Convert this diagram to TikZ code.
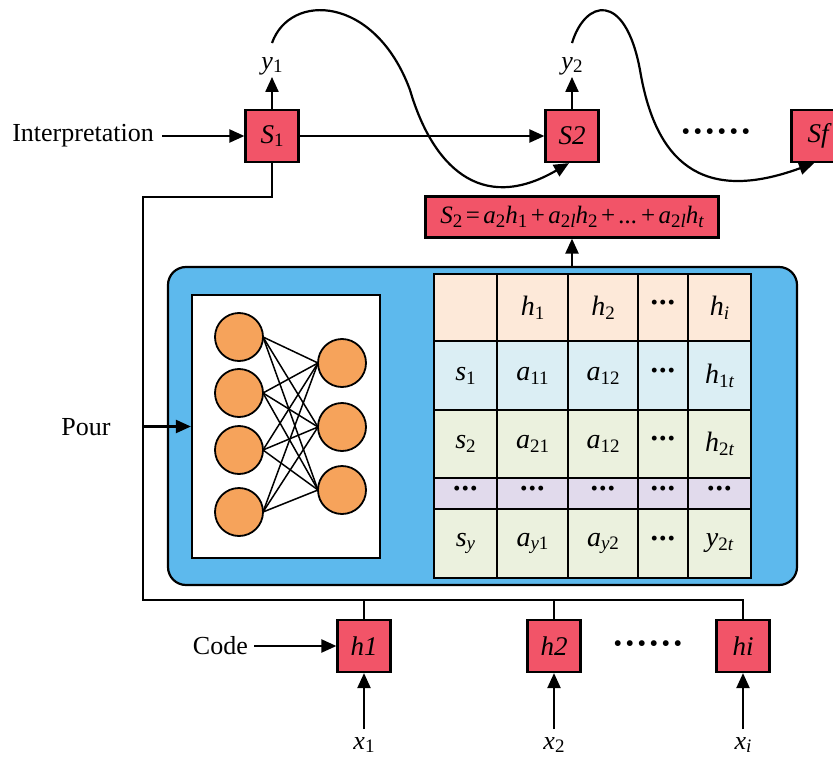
\documentclass[tikz,border=0pt]{standalone}
\usepackage{fontspec}
\setmainfont{Liberation Serif}
\usetikzlibrary{arrows.meta,calc}
\definecolor{boxred}{HTML}{F25468}
\definecolor{peach}{HTML}{FDE9D9}
\definecolor{lblue}{HTML}{DBEEF4}
\definecolor{lgreen}{HTML}{EBF1DE}
\definecolor{lav}{HTML}{E1DAEC}
\definecolor{nnorange}{HTML}{F6A35B}
\definecolor{panelblue}{HTML}{5DB9ED}
\newcommand\mysub[1]{\raisebox{-0.3ex}{\fontsize{19}{19}\selectfont\upshape #1}}
\newcommand\iv[2]{{\itshape #1}\mysub{#2}}
\newcommand\cdt{{\fontsize{30}{30}\selectfont\bfseries\raisebox{0.2ex}{·\kern-1.5pt·\kern-1.5pt·}}}
\newcommand\op[1]{\kern3.5pt{\upshape #1}\kern3.5pt}
\newcommand\cell[7]{\node[cellst, fill=#6, minimum width={(#3-#2)*1pt}, minimum height={(#5-#4)*1pt}] (#1) at ({(#2+#3)/2},{(#4+#5)/2}) {#7};}
\tikzset{
  redbox/.style={draw=black, line width=2.2pt, fill=boxred, minimum width=53pt, minimum height=52pt, inner sep=0pt, font=\fontsize{27}{30}\selectfont\itshape},
  arr/.style={line width=2.2pt, -{Triangle[length=15pt,width=13pt]}},
  ln/.style={line width=2.2pt},
  lbl/.style={font=\fontsize{26}{30}\selectfont, inner sep=2pt},
  cellst/.style={draw=black, line width=2.2pt, inner sep=0pt, font=\fontsize{28}{30}\selectfont},
  neuron/.style={circle, draw=black, line width=1.8pt, fill=nnorange, minimum size=48pt, inner sep=0pt},
  wire/.style={line width=1.5pt},
  bigdots/.style={font=\fontsize{36}{36}\selectfont\bfseries, inner sep=0pt}
}
\begin{document}
\begin{tikzpicture}[x=1pt,y=-1pt]
\useasboundingbox (0,0) rectangle (833,760);
% top row
\node[redbox] (S1) at (272,136) {\iv{S}{1}};
\node[redbox] (S2) at (572,136) {S2};
\node[redbox] (Sf) at (818,136) {Sf};
\node[lbl] (y1) at (272,66) {\iv{y}{1}};
\node[lbl] (y2) at (572,66) {\iv{y}{2}};
\node[lbl, anchor=east] (interp) at (156,136) {Interpretation};
\node[bigdots] (dtop) at (716,136) {······};
\draw[arr] ([xshift=6pt]interp.east) -- (S1.west);
\draw[arr] (S1.east) -- (S2.west);
\draw[arr] (S1.north) -- (y1.south);
\draw[arr] (S2.north) -- (y2.south);
\draw[arr] ([yshift=12pt]y1.north) .. controls (290,-8) and (375,-5) .. (410,90)
   .. controls (432,165) and (480,215) .. ([xshift=-3pt]S2.south);
\draw[arr] ([yshift=12pt]y2.north) .. controls (585,0) and (625,-10) .. (640,70)
   .. controls (655,160) and (700,205) .. ([xshift=-4pt]Sf.south);
% formula
\node[draw=black, line width=2.2pt, fill=boxred, minimum width=293pt, minimum height=41pt, inner sep=0pt,
  font=\fontsize{25}{30}\selectfont\itshape] (F) at (572,217)
  {S\mysub{2}\op{=}a\mysub{2}h\mysub{1}\op{+}a\mysub{2\itshape l}h\mysub{2}\op{+}...\op{+}a\mysub{2\itshape l}h\mysub{\itshape t}};
% panel
\node[draw=black, line width=2.2pt, fill=panelblue, rounded corners=18pt, minimum width=629pt, minimum height=318pt, inner sep=0pt] (panel) at (482.5,426) {};
\draw[arr] (F.south |- panel.north) -- (F.south);
\node[draw=black, line width=2.2pt, fill=white, minimum width=188pt, minimum height=263pt, inner sep=0pt] (nn) at (286,426.5) {};
\foreach \l/\ly in {L1/337,L2/393,L3/450,L4/512}{
  \foreach \r/\ry in {R1/363,R2/427,R3/490}{\draw[wire] (263,\ly) -- (318,\ry);}}
\node[neuron] (L1) at (239,337) {};
\node[neuron] (L2) at (239,393) {};
\node[neuron] (L3) at (239,450) {};
\node[neuron] (L4) at (239,512) {};
\node[neuron] (R1) at (342,363) {};
\node[neuron] (R2) at (342,427) {};
\node[neuron] (R3) at (342,490) {};
% table
\cell{c11}{434}{497}{274}{341}{peach}{}
\cell{c12}{497}{568}{274}{341}{peach}{\iv{h}{1}}
\cell{c13}{568}{638}{274}{341}{peach}{\iv{h}{2}}
\cell{c14}{638}{688}{274}{341}{peach}{\cdt}
\cell{c15}{688}{751}{274}{341}{peach}{\iv{h}{\itshape i}}
\cell{c21}{434}{497}{341}{410}{lblue}{\iv{s}{1}}
\cell{c22}{497}{568}{341}{410}{lblue}{\iv{a}{11}}
\cell{c23}{568}{638}{341}{410}{lblue}{\iv{a}{12}}
\cell{c24}{638}{688}{341}{410}{lblue}{\cdt}
\cell{c25}{688}{751}{341}{410}{lblue}{\iv{h}{1\itshape t}}
\cell{c31}{434}{497}{410}{478}{lgreen}{\iv{s}{2}}
\cell{c32}{497}{568}{410}{478}{lgreen}{\iv{a}{21}}
\cell{c33}{568}{638}{410}{478}{lgreen}{\iv{a}{12}}
\cell{c34}{638}{688}{410}{478}{lgreen}{\cdt}
\cell{c35}{688}{751}{410}{478}{lgreen}{\iv{h}{2\itshape t}}
\cell{c41}{434}{497}{478}{509}{lav}{\cdt}
\cell{c42}{497}{568}{478}{509}{lav}{\cdt}
\cell{c43}{568}{638}{478}{509}{lav}{\cdt}
\cell{c44}{638}{688}{478}{509}{lav}{\cdt}
\cell{c45}{688}{751}{478}{509}{lav}{\cdt}
\cell{c51}{434}{497}{509}{578}{lgreen}{\iv{s}{\itshape y}}
\cell{c52}{497}{568}{509}{578}{lgreen}{\iv{a}{\itshape y\upshape 1}}
\cell{c53}{568}{638}{509}{578}{lgreen}{\iv{a}{\itshape y\upshape 2}}
\cell{c54}{638}{688}{509}{578}{lgreen}{\cdt}
\cell{c55}{688}{751}{509}{578}{lgreen}{\iv{y}{2\itshape t}}
% bottom
\node[redbox] (h1) at (364,646) {h1};
\node[redbox] (h2) at (554,646) {h2};
\node[redbox] (hi) at (743,646) {hi};
\node[bigdots] (dbot) at (648,648) {······};
\node[lbl, anchor=east] (code) at (250,646) {Code};
\node[lbl] (pour) at (86,427) {Pour};
\node[lbl, inner sep=8pt] (x1) at (364,745) {\iv{x}{1}};
\node[lbl, inner sep=8pt] (x2) at (554,745) {\iv{x}{2}};
\node[lbl, inner sep=8pt] (xi) at (743,745) {\iv{x}{\itshape i}};
\draw[arr] ([xshift=4pt]code.east) -- (h1.west);
\draw[arr] (x1.north) -- (h1.south);
\draw[arr] (x2.north) -- (h2.south);
\draw[arr] (xi.north) -- (hi.south);
\coordinate (tl) at (143,197);
\coordinate (bl) at (143,600);
\draw[ln] (S1.south) |- (tl) -- (bl) -| (hi.north);
\draw[ln] (h1.north) -- (h1.north |- bl);
\draw[ln] (h2.north) -- (h2.north |- bl);
\draw[arr] (tl |- nn.west) -- (nn.west);
\end{tikzpicture}
\end{document}
